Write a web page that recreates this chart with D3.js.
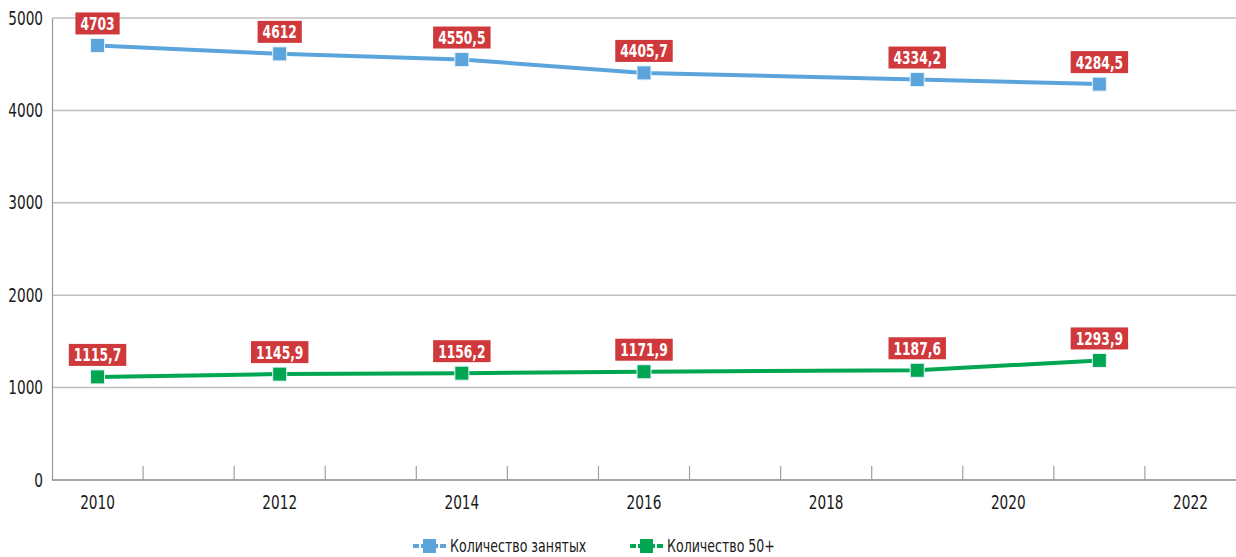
<!DOCTYPE html>
<html>
<head>
<meta charset="utf-8">
<script src="https://cdn.jsdelivr.net/npm/d3@7"></script>
<style>
  body { margin: 0; background: #fff; }
  svg text { font-family: "Liberation Sans Narrow", "DejaVu Sans Condensed", "DejaVu Sans", sans-serif; font-stretch: condensed; }
</style>
</head>
<body>
<svg id="chart"></svg>
<script>
const width = 1236;
const height = 557;

const years = ["2010","2011","2012","2013","2014","2015","2016","2017","2018","2019","2020","2021","2022"];
const tickYears = ["2010","2012","2014","2016","2018","2020","2022"];
const yTicks = [0, 1000, 2000, 3000, 4000, 5000];

const pointYears = ["2010","2012","2014","2016","2019","2021"];
const employed = [4703, 4612, 4550.5, 4405.7, 4334.2, 4284.5];
const aged50 = [1115.7, 1145.9, 1156.2, 1171.9, 1187.6, 1293.9];

const series = [
  {name: "Количество занятых", values: employed, color: "#5ba5dc"},
  {name: "Количество 50+", values: aged50, color: "#00a651"}
];

const margin = {top: 18, right: 0, bottom: 77, left: 52};
const sx = 0.8; // narrow the fallback font, the original uses a condensed face

const svg = d3.select("#chart")
    .attr("width", width)
    .attr("height", height);

const x = d3.scaleBand()
    .domain(years)
    .range([margin.left, width - margin.right]);

const y = d3.scaleLinear()
    .domain([0, 5000])
    .range([height - margin.bottom, margin.top]);

// gridlines
svg.append("g")
  .selectAll("line")
  .data(yTicks.filter(d => d > 0))
  .join("line")
    .attr("x1", margin.left)
    .attr("x2", width)
    .attr("y1", d => y(d))
    .attr("y2", d => y(d))
    .attr("stroke", "#c0c0c0")
    .attr("stroke-width", 1.5);

// y axis
const yAxis = svg.append("g")
    .attr("transform", `translate(${margin.left},0)`)
    .call(d3.axisLeft(y).tickValues(yTicks).tickFormat(d3.format("d")).tickSize(0).tickPadding(9));
yAxis.select(".domain").attr("stroke", "#999").attr("stroke-width", 1.2);
yAxis.selectAll("text")
    .attr("font-size", 19)
    .attr("fill", "#1a1a1a")
    .attr("font-family", null)
    .attr("x", -9 / sx)
    .attr("transform", `scale(${sx},1)`);

// x axis: tick marks at band boundaries
const xAxis = svg.append("g")
    .attr("transform", `translate(0,${y(0)})`);
xAxis.append("line")
    .attr("x1", margin.left)
    .attr("x2", width)
    .attr("stroke", "#888")
    .attr("stroke-width", 1.5);
xAxis.selectAll(".tk")
  .data(years.slice(1))
  .join("line")
    .attr("class", "tk")
    .attr("x1", d => x(d))
    .attr("x2", d => x(d))
    .attr("y1", 0)
    .attr("y2", -14)
    .attr("stroke", "#a0a0a0")
    .attr("stroke-width", 1.2);
xAxis.selectAll("text")
  .data(tickYears)
  .join("text")
    .attr("transform", d => `translate(${x(d) + x.bandwidth() / 2},29) scale(${sx},1)`)
    .attr("text-anchor", "middle")
    .attr("font-size", 19)
    .attr("fill", "#1a1a1a")
    .text(d => d);

const cx = yr => x(yr) + x.bandwidth() / 2;

const line = d3.line()
    .x((d, i) => cx(pointYears[i]))
    .y(d => y(d));

const fmt = v => String(v).replace(".", ",");

series.forEach(s => {
  const g = svg.append("g");
  g.append("path")
      .datum(s.values)
      .attr("fill", "none")
      .attr("stroke", s.color)
      .attr("stroke-width", 4)
      .attr("d", line);

  g.selectAll("rect.mk")
    .data(s.values)
    .join("rect")
      .attr("class", "mk")
      .attr("x", (d, i) => cx(pointYears[i]) - 7)
      .attr("y", d => y(d) - 7)
      .attr("width", 14)
      .attr("height", 14)
      .attr("fill", s.color)
      .attr("stroke", "#e8f2fa")
      .attr("stroke-width", 1);

  const lab = g.selectAll("g.lab")
    .data(s.values)
    .join("g")
      .attr("class", "lab")
      .attr("transform", (d, i) => `translate(${cx(pointYears[i])},${y(d) - 22})`);

  lab.each(function(d) {
    const el = d3.select(this);
    const t = el.append("text")
        .attr("text-anchor", "middle")
        .attr("dy", "0.36em")
        .attr("font-size", 18)
        .attr("font-weight", "bold")
        .attr("fill", "#fff")
        .attr("transform", `scale(0.76,1)`)
        .text(fmt(d));
    const w = t.node().getComputedTextLength() * 0.76 + 10;
    el.insert("rect", "text")
        .attr("x", -w / 2)
        .attr("y", -11)
        .attr("width", w)
        .attr("height", 22)
        .attr("fill", "#d0393b");
  });
});

// legend
const legendX = [413, 630];
const legend = svg.append("g")
  .selectAll("g")
  .data(series)
  .join("g")
    .attr("transform", (d, i) => `translate(${legendX[i]},546)`);
legend.append("line")
    .attr("x1", 0)
    .attr("x2", 33)
    .attr("stroke", d => d.color)
    .attr("stroke-width", 4)
    .attr("stroke-dasharray", "6,2,17,2,6");
legend.append("rect")
    .attr("x", 10)
    .attr("y", -7)
    .attr("width", 13)
    .attr("height", 14)
    .attr("fill", d => d.color);
legend.append("text")
    .attr("transform", `translate(37,0) scale(${sx},1)`)
    .attr("dy", "0.33em")
    .attr("font-size", 17.5)
    .attr("fill", "#1a1a1a")
    .text(d => d.name);
</script>
</body>
</html>
